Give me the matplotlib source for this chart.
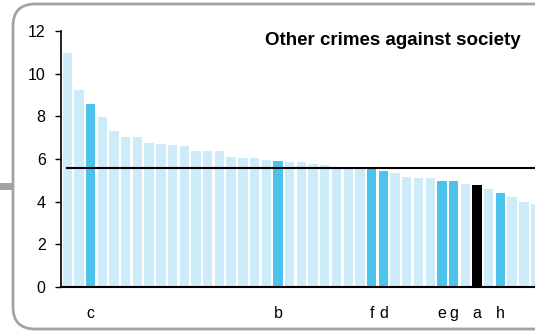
import matplotlib
matplotlib.use("Agg")
import matplotlib.pyplot as plt
from matplotlib.patches import FancyBboxPatch, Rectangle
from matplotlib.transforms import IdentityTransform

plt.rcParams['font.family'] = ['Liberation Sans', 'DejaVu Sans']

# values, sorted high to low (chart is cut at the right)
values = [10.97, 9.24, 8.56, 7.97, 7.30, 7.05, 7.03, 6.75, 6.72, 6.66,
          6.62, 6.39, 6.38, 6.36, 6.09, 6.05, 6.03, 5.94, 5.91, 5.84,
          5.84, 5.78, 5.70, 5.57, 5.56, 5.55, 5.55, 5.44, 5.34, 5.16,
          5.13, 5.13, 4.97, 4.97, 4.83, 4.78, 4.59, 4.39, 4.22, 3.98,
          3.88]
# labelled bars: index -> letter
labels = {2: 'c', 18: 'b', 26: 'f', 27: 'd', 32: 'e', 33: 'g', 35: 'a', 37: 'h'}
highlight = 35          # bar drawn in black
average = 5.56

light = '#cdebf8'
mid = '#4bc3ec'

fig = plt.figure(figsize=(5.35, 3.33), dpi=100)

# rounded frame around the chart, running off the right edge
frame = FancyBboxPatch((13, 4), 600, 325, boxstyle='round,pad=0,rounding_size=22',
                       transform=IdentityTransform(), facecolor='none',
                       edgecolor='#a3a3a3', linewidth=2, zorder=-1)
fig.patches.append(frame)
fig.patches.append(Rectangle((0, 143), 12, 7, transform=IdentityTransform(),
                             facecolor='#a3a3a3', edgecolor='none', zorder=-1))

ax = fig.add_axes([61 / 535, 46 / 333, (535 - 61) / 535, 256 / 333])
ax.patch.set_alpha(0)

xs = range(len(values))
colors = []
for i in xs:
    if i == highlight:
        colors.append('black')
    elif i in labels:
        colors.append(mid)
    else:
        colors.append(light)
ax.bar(xs, values, width=0.8, color=colors, edgecolor='none', zorder=2)

ax.plot([0, len(values)], [average, average], color='black', lw=1.5, zorder=3)

ax.set_ylim(0, 12)
ax.set_xlim(-0.53, 39.95)
ax.set_yticks(range(0, 13, 2))
ax.set_xticks(list(labels.keys()))
ax.set_xticklabels(list(labels.values()))
ax.tick_params(axis='y', length=4, width=1, pad=7, labelsize=11.5)
ax.tick_params(axis='x', length=0, pad=14, labelsize=11.5)
ax.spines['top'].set_visible(False)
ax.spines['right'].set_visible(False)
ax.spines['left'].set_linewidth(1.2)
ax.spines['bottom'].set_linewidth(1.5)

ax.text(0.97, 0.995, 'Other crimes against society', transform=ax.transAxes,
        ha='right', va='top', fontsize=13.5, fontweight='bold')

fig.savefig('out.png', dpi=100)
